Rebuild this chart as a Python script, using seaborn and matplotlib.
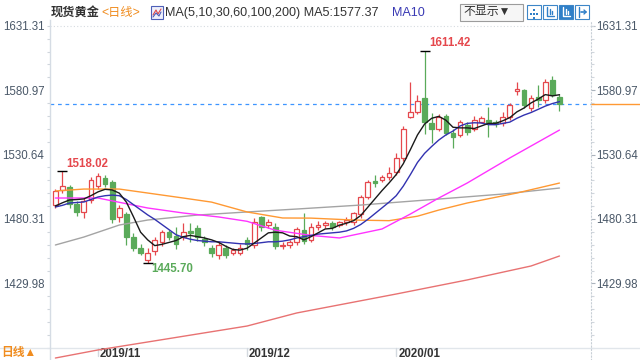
import numpy as np
import pandas as pd
import matplotlib
matplotlib.use('Agg')
import matplotlib.pyplot as plt
import matplotlib.transforms as mtransforms
from matplotlib.patches import Rectangle
from matplotlib.lines import Line2D
from matplotlib.ticker import FixedLocator, AutoMinorLocator
import seaborn as sns

sns.set_theme(style='white')
plt.rcParams['font.family'] = ['Liberation Sans', 'Noto Sans CJK SC', 'DejaVu Sans']

# 交易日 (2019-10-24 ~ 2020-02-04, 圣诞和元旦休市)
dates = pd.bdate_range('2019-10-24', '2020-02-04')
dates = dates[~dates.isin(pd.to_datetime(['2019-12-25', '2020-01-01']))]

opens = [1491, 1503, 1505, 1492, 1486, 1495, 1506, 1512, 1509, 1482, 1484, 1466, 1458, 1448,
         1455, 1462, 1470, 1467, 1466, 1471, 1473, 1465, 1458, 1452, 1458, 1454, 1454, 1464,
         1460, 1482, 1476, 1474, 1459, 1460, 1462, 1472, 1464, 1474, 1476, 1477, 1476, 1478,
         1478, 1484, 1497.5, 1510, 1511, 1513, 1517, 1528, 1560, 1564, 1575, 1555, 1551, 1561,
         1547.5, 1546, 1554, 1551, 1556, 1558, 1556, 1555, 1560, 1580.5, 1581, 1567, 1575.5,
         1573.5, 1589, 1576]
highs = [1504, 1518.02, 1507, 1494, 1497, 1513, 1516, 1515, 1511, 1491, 1486, 1469, 1461, 1458,
         1466, 1472, 1472, 1474, 1477, 1477, 1476, 1467, 1460, 1463, 1460, 1458, 1461, 1466,
         1481, 1483, 1480, 1477, 1462, 1464, 1474, 1485, 1477, 1479, 1479, 1479, 1479, 1482,
         1486, 1499, 1511, 1514.5, 1515, 1521, 1532, 1553, 1587, 1577, 1611.42, 1563, 1562, 1562,
         1551, 1558, 1556, 1561, 1561, 1568, 1558, 1564, 1571, 1587, 1582, 1577, 1585,
         1590, 1592, 1578]
lows = [1489, 1501, 1489, 1483, 1481, 1493, 1504, 1505, 1477, 1478, 1460, 1455, 1452, 1445.70,
        1452, 1459, 1464, 1457, 1464, 1462, 1463, 1459, 1451, 1449, 1450, 1452, 1452, 1456,
        1458, 1471, 1473, 1457, 1457, 1458, 1460, 1461, 1462, 1472, 1473, 1472, 1474, 1476,
        1476, 1481, 1496, 1505, 1509, 1511, 1515, 1526, 1559, 1562, 1547, 1540, 1549, 1546,
        1536, 1544, 1546, 1549, 1555, 1544, 1552, 1553, 1558, 1577, 1567, 1565, 1568,
        1571, 1576, 1565]
closes = [1502, 1506, 1492, 1486, 1494, 1511, 1514, 1508, 1480, 1489, 1466, 1458, 1454, 1454,
          1464, 1470, 1466, 1461, 1470, 1469, 1466, 1462, 1454, 1460, 1452, 1456, 1458, 1461,
          1478, 1474, 1478, 1459, 1460, 1462.5, 1472.5, 1463, 1474, 1476, 1477.5, 1474, 1478, 1479.5,
          1485, 1497.5, 1509, 1508.5, 1513, 1516, 1528, 1551, 1564, 1572.5, 1556, 1551, 1560, 1547.5,
          1544.5, 1556, 1548.5, 1557.5, 1559, 1555, 1554.5, 1560, 1569.5, 1582, 1569.5, 1575, 1573.5,
          1587, 1577, 1570]

ma5 = [1490.5, 1493, 1495.2, 1495.5, 1496, 1498.5, 1501.5, 1503.5, 1503, 1500.5, 1493.5, 1482,
       1470, 1464, 1459.5, 1460.5, 1462, 1463.5, 1466.5, 1467.5, 1466.5, 1465.5, 1464, 1462,
       1459, 1456.5, 1456, 1457.5, 1461.5, 1465.5, 1469.5, 1470, 1469.5, 1467, 1466.5, 1464,
       1466.5, 1469.5, 1472.5, 1473, 1475.5, 1477, 1479, 1483, 1489.5, 1496, 1502.5, 1508.5,
       1515, 1523.5, 1534.5, 1546, 1554.5, 1559, 1560.5, 1557.5, 1552, 1551.5, 1551.5, 1551,
       1553, 1555, 1555, 1557, 1559.5, 1564, 1567, 1571, 1574, 1577.5, 1576.5, 1577.4]
ma10 = [1489.7, 1491, 1492.8, 1493.2, 1493.6, 1495.5, 1497.5, 1498.5, 1499, 1498.5, 1495.5, 1491.5,
        1487.5, 1483.5, 1480, 1476, 1472, 1468, 1466, 1464.5, 1463.5, 1463, 1462.5, 1462.5,
        1462, 1461.5, 1461, 1460.8, 1461.2, 1461.8, 1462.5, 1462.5, 1463, 1464, 1465.5, 1466.5,
        1467.5, 1468.5, 1469, 1469.5, 1470, 1471, 1473, 1476, 1480, 1484.5, 1489, 1493.5,
        1498.5, 1506, 1515, 1524.5, 1531.6, 1537, 1542, 1546, 1549, 1553, 1555, 1555.5,
        1555.3, 1554, 1554, 1555, 1556, 1559, 1561.5, 1563.5, 1566, 1568.5, 1570.5, 1572]

ma30_idx = [0, 6, 13, 18, 23, 27, 31, 36, 40, 46, 50, 54, 58, 64, 71]
ma30_val = [1496.7, 1496.7, 1488.9, 1485.0, 1481.9, 1478.5, 1471.5, 1467.5, 1465.5, 1472.5,
            1484.2, 1496.7, 1508.4, 1528.0, 1549.8]
ma60_idx = [0, 4, 9, 13, 18, 22, 27, 32, 36, 42, 47, 51, 54, 58, 65, 71]
ma60_val = [1502.2, 1503.7, 1503.7, 1500.6, 1496.7, 1493.5, 1485.8, 1481.1, 1481.0, 1479.5,
            1479.0, 1482.5, 1487.3, 1492.8, 1500.6, 1508.4]
ma100_idx = [0, 4, 9, 13, 20, 27, 34, 43, 54, 63, 71]
ma100_val = [1460.0, 1466.2, 1475.6, 1479.5, 1483.4, 1485.8, 1488.1, 1491.2, 1495.9, 1499.8, 1504.5]
ma200_idx = [0, 6, 15, 27, 34, 48, 58, 67, 71]
ma200_val = [1371.7, 1378.0, 1386.0, 1396.7, 1406.9, 1421.7, 1432.7, 1443.6, 1451.4]

yticks = [1429.98, 1480.31, 1530.64, 1580.97, 1631.31]
month_labels = ['2019/11', '2019/12', '2020/01']

RED = '#e5484d'
GREEN = '#5aaa5a'
W, H = 640, 360

fig = plt.figure(figsize=(6.4, 3.6), dpi=100)
ax = fig.add_axes([50 / W, 0, 541 / W, 340 / H])

df = pd.DataFrame({'o': opens, 'h': highs, 'l': lows, 'c': closes})
x = np.arange(len(df))
up = (df.c >= df.o).values
dn = ~up

# 影线
ax.vlines(x[up], df.l[up], df.h[up], color=RED, lw=0.9, zorder=2)
ax.vlines(x[dn], df.l[dn], df.h[dn], color=GREEN, lw=0.9, zorder=2)
# 实体
bw = 0.66
hu = np.maximum((df.c - df.o)[up].values, 0.8)
ax.bar(x[up], hu, bottom=df.o[up].values, width=bw, facecolor='white',
       edgecolor=RED, linewidth=0.9, zorder=3)
hd = np.maximum((df.o - df.c)[dn].values, 0.8)
ax.bar(x[dn], hd, bottom=df.c[dn].values, width=bw, facecolor=GREEN,
       edgecolor=GREEN, linewidth=0.9, zorder=3)

# 均线
sns.lineplot(x=ma200_idx, y=ma200_val, color='#e87272', lw=1.0, ax=ax, zorder=4)
sns.lineplot(x=ma100_idx, y=ma100_val, color='#a4a4a4', lw=1.0, ax=ax, zorder=4)
sns.lineplot(x=ma60_idx, y=ma60_val, color='#ff9933', lw=1.0, ax=ax, zorder=4)
sns.lineplot(x=ma30_idx, y=ma30_val, color='#ff33ff', lw=1.0, ax=ax, zorder=4)
sns.lineplot(x=x, y=ma10, color='#3232b0', lw=1.0, ax=ax, zorder=5)
sns.lineplot(x=x, y=ma5, color='#1a1a1a', lw=1.0, ax=ax, zorder=6)

# 现价线
last = closes[-1]
ax.axhline(last, color='#3d95ff', ls=(0, (3, 3)), lw=0.9, zorder=1)
tr = mtransforms.blended_transform_factory(ax.transAxes, ax.transData)
ax.plot([1.0, (W - 50) / 541], [last, last], transform=tr, clip_on=False,
        color='#ff9933', lw=1.0)
ax.axhline(yticks[-1], color='#d6dbe0', ls=(0, (1, 2)), lw=0.8, zorder=0)

# 最高最低标注
def mark(i, val, text, color, dx, dy):
    ax.plot([i], [val], marker='_', ms=7, mew=1.0, color='black', zorder=7)
    ax.annotate(text, xy=(i, val), xytext=(dx, dy), textcoords='offset pixels',
                color=color, fontsize=8.3, fontweight='bold', va='center', ha='left',
                zorder=8)

i_hi1 = int(np.argmax(highs[:20]))
i_lo = int(np.argmin(lows))
i_hi = int(np.argmax(highs))
mark(i_hi1, highs[i_hi1], f'{highs[i_hi1]:.2f}', RED, 4, 7)
mark(i_lo, lows[i_lo], f'{lows[i_lo]:.2f}', GREEN, 4, -6)
mark(i_hi, highs[i_hi], f'{highs[i_hi]:.2f}', RED, 5, 8)

ax.set_xlim(-0.76, 75.44)
ax.set_ylim(1370.15, 1635.78)
ax.set_xticks([])
ax.yaxis.set_major_locator(FixedLocator(yticks))
ax.set_yticklabels([f'{v:.2f}' for v in yticks])
ax.yaxis.set_minor_locator(AutoMinorLocator(5))
ax.tick_params(axis='y', which='major', left=False, right=True, labelleft=True,
               labelright=True, length=3, width=0.8, color='#aab3bc',
               labelsize=8.3, labelcolor='#4a5868', pad=1)
ax.tick_params(axis='y', which='minor', left=True, right=True, length=2,
               width=0.8, color='#d0d6dc')
ax.set_xlabel('')
ax.set_ylabel('')
for s in ['top', 'bottom']:
    ax.spines[s].set_visible(False)
ax.spines['left'].set_color('#d5dce4')
ax.spines['left'].set_linewidth(1.0)
ax.spines['right'].set_color('#c8cfd6')
ax.spines['right'].set_linestyle((0, (1, 2)))
ax.spines['right'].set_linewidth(0.8)

# 日期轴
band_y = (H - 348) / 340
ax.plot([-50 / 541, (W - 50) / 541], [band_y, band_y], transform=ax.transAxes,
        clip_on=False, color='#e1e6eb', lw=1.0)
trx = mtransforms.blended_transform_factory(ax.transData, ax.transAxes)
month_keys = pd.to_datetime([m.replace('/', '-') for m in month_labels]).to_period('M')
for lab, mk in zip(month_labels, month_keys):
    mi = int(np.where(dates.to_period('M') == mk)[0][0])
    ax.plot([mi, mi], [band_y, band_y - 8 / 340], transform=trx, color='#d3d9df',
            lw=1.0, clip_on=False)
    ax.annotate(lab, xy=(mi, band_y - 6 / 340), xycoords=trx, xytext=(2, 0),
                textcoords='offset pixels', ha='left', va='center', fontsize=8.3,
                fontweight='bold', color='#333333')


def ptext(px, py, s, **kw):
    fig.text(px / W, 1 - py / H, s, **kw)


def pline(xs, ys, **kw):
    fig.add_artist(Line2D([v / W for v in xs], [1 - v / H for v in ys],
                          transform=fig.transFigure, **kw))


def prect(px, py, w, h, **kw):
    fig.add_artist(Rectangle((px / W, 1 - (py + h) / H), w / W, h / H,
                             transform=fig.transFigure, **kw))


ptext(1, 353, '日线▲', ha='left', va='center', fontsize=8.5, fontweight='bold',
      color='#f08c1e')

# 标题栏
ptext(51, 13, '现货黄金', ha='left', va='center', fontsize=8.8, fontweight='bold',
      color='#333333')
ptext(101, 13, '<日线>', ha='left', va='center', fontsize=8.8, color='#f08c1e')
prect(151, 6, 12, 13, facecolor='#eef0fb', edgecolor='#4e5fb8', lw=0.8)
pline([153, 156, 158, 161], [15, 10, 14, 9], color='#e04848', lw=0.8)
pline([153, 156, 159, 161], [17, 13, 16, 12], color='#4e5fb8', lw=0.8)
ptext(165, 13, 'MA(5,10,30,60,100,200) MA5:1577.37', ha='left', va='center',
      fontsize=9.1, color='#333333')
ptext(392, 13, 'MA10', ha='left', va='center', fontsize=9.1, color='#3a3ab4')

prect(460, 4, 63, 17, facecolor='#f6f6f6', edgecolor='#9c9c9c', lw=0.8)
ptext(463, 12.5, '不显示▼', ha='left', va='center', fontsize=8.6, color='#333333')

for k, x0 in enumerate([527, 543, 559, 575]):
    fc = '#2f7fc8' if k == 2 else 'white'
    gc = 'white' if k == 2 else '#2f7fc8'
    prect(x0, 5, 14, 14, facecolor=fc, edgecolor='#3d86c8', lw=0.8)
    if k == 0:
        for dx, dy in [(7, 8), (4, 12), (10, 12), (7, 16), (7, 12)]:
            prect(x0 + dx - 1, 5 + dy - 4, 2, 2, facecolor=gc, edgecolor='none')
    elif k in (1, 2):
        pline([x0 + 4, x0 + 4, x0 + 11], [7, 16, 16], color=gc, lw=1.0)
        pline([x0 + 7, x0 + 7], [9, 14], color=gc, lw=1.0)
        pline([x0 + 9, x0 + 9], [11, 14], color=gc, lw=1.0)
    else:
        pline([x0 + 4, x0 + 4], [7, 17], color=gc, lw=1.0)
        pline([x0 + 6, x0 + 11], [12, 12], color=gc, lw=1.2)
        pline([x0 + 9, x0 + 11, x0 + 9], [10, 12, 14], color=gc, lw=1.0)

fig.savefig('out.png', dpi=100)
